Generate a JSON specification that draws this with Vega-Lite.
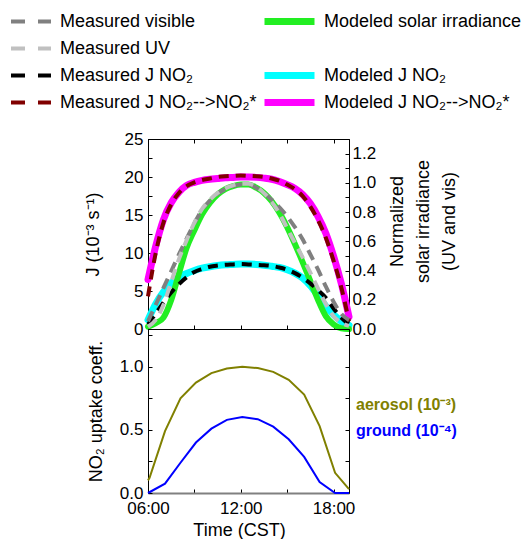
{
  "$schema": "https://vega.github.io/schema/vega-lite/v6.json",
  "padding": {"left": 8, "top": 7, "right": 0, "bottom": 0},
  "background": "white",
  "config": {
    "font": "Liberation Sans",
    "view": {"stroke": "black", "strokeWidth": 1},
    "axis": {
      "labelFont": "Liberation Sans", "labelFontSize": 17, "labelColor": "black",
      "titleFont": "Liberation Sans", "titleFontSize": 18, "titleFontWeight": "normal", "titleColor": "black",
      "domainColor": "black", "tickColor": "black", "grid": false, "tickSize": -4,
      "labelFlush": false, "labelOverlap": false
    },
    "legend": {"labelFont": "Liberation Sans", "labelFontSize": 18, "labelColor": "black", "padding": 0}
  },
  "datasets": {
    "jmod": [
      {"h":6,"v":1.2,"s":"Modeled J NO₂"},{"h":6.5,"v":3.3,"s":"Modeled J NO₂"},{"h":7,"v":4.9,"s":"Modeled J NO₂"},{"h":7.5,"v":6.0,"s":"Modeled J NO₂"},{"h":8,"v":6.8,"s":"Modeled J NO₂"},{"h":8.5,"v":7.3,"s":"Modeled J NO₂"},{"h":9,"v":7.7,"s":"Modeled J NO₂"},{"h":9.5,"v":8.0,"s":"Modeled J NO₂"},{"h":10,"v":8.2,"s":"Modeled J NO₂"},{"h":10.5,"v":8.35,"s":"Modeled J NO₂"},{"h":11,"v":8.45,"s":"Modeled J NO₂"},{"h":11.5,"v":8.5,"s":"Modeled J NO₂"},{"h":12,"v":8.55,"s":"Modeled J NO₂"},{"h":12.5,"v":8.55,"s":"Modeled J NO₂"},{"h":13,"v":8.5,"s":"Modeled J NO₂"},{"h":13.5,"v":8.4,"s":"Modeled J NO₂"},{"h":14,"v":8.25,"s":"Modeled J NO₂"},{"h":14.5,"v":8.1,"s":"Modeled J NO₂"},{"h":15,"v":7.8,"s":"Modeled J NO₂"},{"h":15.5,"v":7.35,"s":"Modeled J NO₂"},{"h":16,"v":6.7,"s":"Modeled J NO₂"},{"h":16.5,"v":5.7,"s":"Modeled J NO₂"},{"h":17,"v":4.4,"s":"Modeled J NO₂"},{"h":17.5,"v":3.0,"s":"Modeled J NO₂"},{"h":18,"v":1.9,"s":"Modeled J NO₂"},{"h":18.5,"v":1.0,"s":"Modeled J NO₂"},{"h":19,"v":0.5,"s":"Modeled J NO₂"},
      {"h":6,"v":6.5,"s":"Modeled J NO₂-->NO₂*"},{"h":6.5,"v":10.9,"s":"Modeled J NO₂-->NO₂*"},{"h":7,"v":14.4,"s":"Modeled J NO₂-->NO₂*"},{"h":7.5,"v":16.6,"s":"Modeled J NO₂-->NO₂*"},{"h":8,"v":18.0,"s":"Modeled J NO₂-->NO₂*"},{"h":8.5,"v":18.9,"s":"Modeled J NO₂-->NO₂*"},{"h":9,"v":19.3,"s":"Modeled J NO₂-->NO₂*"},{"h":9.5,"v":19.55,"s":"Modeled J NO₂-->NO₂*"},{"h":10,"v":19.7,"s":"Modeled J NO₂-->NO₂*"},{"h":10.5,"v":19.8,"s":"Modeled J NO₂-->NO₂*"},{"h":11,"v":19.9,"s":"Modeled J NO₂-->NO₂*"},{"h":11.5,"v":19.95,"s":"Modeled J NO₂-->NO₂*"},{"h":12,"v":20.0,"s":"Modeled J NO₂-->NO₂*"},{"h":12.5,"v":20.0,"s":"Modeled J NO₂-->NO₂*"},{"h":13,"v":19.95,"s":"Modeled J NO₂-->NO₂*"},{"h":13.5,"v":19.85,"s":"Modeled J NO₂-->NO₂*"},{"h":14,"v":19.7,"s":"Modeled J NO₂-->NO₂*"},{"h":14.5,"v":19.4,"s":"Modeled J NO₂-->NO₂*"},{"h":15,"v":19.0,"s":"Modeled J NO₂-->NO₂*"},{"h":15.5,"v":18.5,"s":"Modeled J NO₂-->NO₂*"},{"h":16,"v":17.7,"s":"Modeled J NO₂-->NO₂*"},{"h":16.5,"v":16.5,"s":"Modeled J NO₂-->NO₂*"},{"h":17,"v":14.8,"s":"Modeled J NO₂-->NO₂*"},{"h":17.5,"v":12.6,"s":"Modeled J NO₂-->NO₂*"},{"h":18,"v":9.6,"s":"Modeled J NO₂-->NO₂*"},{"h":18.5,"v":6.0,"s":"Modeled J NO₂-->NO₂*"},{"h":19,"v":1.6,"s":"Modeled J NO₂-->NO₂*"}
    ],
    "irrmod": [
      {"h":6,"v":0.016,"s":"Modeled solar irradiance"},{"h":6.5,"v":0.04,"s":"Modeled solar irradiance"},{"h":7,"v":0.078,"s":"Modeled solar irradiance"},{"h":7.5,"v":0.198,"s":"Modeled solar irradiance"},{"h":8,"v":0.38,"s":"Modeled solar irradiance"},{"h":8.5,"v":0.556,"s":"Modeled solar irradiance"},{"h":9,"v":0.676,"s":"Modeled solar irradiance"},{"h":9.5,"v":0.785,"s":"Modeled solar irradiance"},{"h":10,"v":0.863,"s":"Modeled solar irradiance"},{"h":10.5,"v":0.92,"s":"Modeled solar irradiance"},{"h":11,"v":0.957,"s":"Modeled solar irradiance"},{"h":11.5,"v":0.978,"s":"Modeled solar irradiance"},{"h":12,"v":0.988,"s":"Modeled solar irradiance"},{"h":12.5,"v":0.988,"s":"Modeled solar irradiance"},{"h":13,"v":0.967,"s":"Modeled solar irradiance"},{"h":13.5,"v":0.931,"s":"Modeled solar irradiance"},{"h":14,"v":0.874,"s":"Modeled solar irradiance"},{"h":14.5,"v":0.796,"s":"Modeled solar irradiance"},{"h":15,"v":0.697,"s":"Modeled solar irradiance"},{"h":15.5,"v":0.582,"s":"Modeled solar irradiance"},{"h":16,"v":0.458,"s":"Modeled solar irradiance"},{"h":16.5,"v":0.328,"s":"Modeled solar irradiance"},{"h":17,"v":0.198,"s":"Modeled solar irradiance"},{"h":17.5,"v":0.088,"s":"Modeled solar irradiance"},{"h":18,"v":0.031,"s":"Modeled solar irradiance"},{"h":18.5,"v":0.005,"s":"Modeled solar irradiance"},{"h":19,"v":0,"s":"Modeled solar irradiance"}
    ],
    "jmeas": [
      {"h":6,"v":0.6,"s":"Measured J NO₂"},{"h":6.5,"v":2.0,"s":"Measured J NO₂"},{"h":7,"v":3.5,"s":"Measured J NO₂"},{"h":7.5,"v":4.8,"s":"Measured J NO₂"},{"h":8,"v":5.9,"s":"Measured J NO₂"},{"h":8.5,"v":6.8,"s":"Measured J NO₂"},{"h":9,"v":7.5,"s":"Measured J NO₂"},{"h":9.5,"v":7.9,"s":"Measured J NO₂"},{"h":10,"v":8.2,"s":"Measured J NO₂"},{"h":10.5,"v":8.35,"s":"Measured J NO₂"},{"h":11,"v":8.45,"s":"Measured J NO₂"},{"h":11.5,"v":8.5,"s":"Measured J NO₂"},{"h":12,"v":8.55,"s":"Measured J NO₂"},{"h":12.5,"v":8.5,"s":"Measured J NO₂"},{"h":13,"v":8.45,"s":"Measured J NO₂"},{"h":13.5,"v":8.4,"s":"Measured J NO₂"},{"h":14,"v":8.3,"s":"Measured J NO₂"},{"h":14.5,"v":8.1,"s":"Measured J NO₂"},{"h":15,"v":7.8,"s":"Measured J NO₂"},{"h":15.5,"v":7.35,"s":"Measured J NO₂"},{"h":16,"v":6.75,"s":"Measured J NO₂"},{"h":16.5,"v":6.0,"s":"Measured J NO₂"},{"h":17,"v":5.1,"s":"Measured J NO₂"},{"h":17.5,"v":4.1,"s":"Measured J NO₂"},{"h":18,"v":2.7,"s":"Measured J NO₂"},{"h":18.5,"v":1.5,"s":"Measured J NO₂"},{"h":19,"v":0.6,"s":"Measured J NO₂"},
      {"h":6,"v":4.3,"s":"Measured J NO₂-->NO₂*"},{"h":6.5,"v":10.0,"s":"Measured J NO₂-->NO₂*"},{"h":7,"v":14.0,"s":"Measured J NO₂-->NO₂*"},{"h":7.5,"v":16.4,"s":"Measured J NO₂-->NO₂*"},{"h":8,"v":17.9,"s":"Measured J NO₂-->NO₂*"},{"h":8.5,"v":18.8,"s":"Measured J NO₂-->NO₂*"},{"h":9,"v":19.3,"s":"Measured J NO₂-->NO₂*"},{"h":9.5,"v":19.6,"s":"Measured J NO₂-->NO₂*"},{"h":10,"v":19.8,"s":"Measured J NO₂-->NO₂*"},{"h":10.5,"v":20.0,"s":"Measured J NO₂-->NO₂*"},{"h":11,"v":20.1,"s":"Measured J NO₂-->NO₂*"},{"h":11.5,"v":20.15,"s":"Measured J NO₂-->NO₂*"},{"h":12,"v":20.2,"s":"Measured J NO₂-->NO₂*"},{"h":12.5,"v":20.15,"s":"Measured J NO₂-->NO₂*"},{"h":13,"v":20.1,"s":"Measured J NO₂-->NO₂*"},{"h":13.5,"v":20.0,"s":"Measured J NO₂-->NO₂*"},{"h":14,"v":19.8,"s":"Measured J NO₂-->NO₂*"},{"h":14.5,"v":19.5,"s":"Measured J NO₂-->NO₂*"},{"h":15,"v":19.0,"s":"Measured J NO₂-->NO₂*"},{"h":15.5,"v":18.4,"s":"Measured J NO₂-->NO₂*"},{"h":16,"v":17.5,"s":"Measured J NO₂-->NO₂*"},{"h":16.5,"v":16.1,"s":"Measured J NO₂-->NO₂*"},{"h":17,"v":14.3,"s":"Measured J NO₂-->NO₂*"},{"h":17.5,"v":12.0,"s":"Measured J NO₂-->NO₂*"},{"h":18,"v":9.0,"s":"Measured J NO₂-->NO₂*"},{"h":18.5,"v":5.5,"s":"Measured J NO₂-->NO₂*"},{"h":19,"v":1.0,"s":"Measured J NO₂-->NO₂*"}
    ],
    "irrmeas": [
      {"h":6,"v":0.052,"s":"Measured visible"},{"h":6.5,"v":0.166,"s":"Measured visible"},{"h":7,"v":0.281,"s":"Measured visible"},{"h":7.5,"v":0.395,"s":"Measured visible"},{"h":8,"v":0.51,"s":"Measured visible"},{"h":8.5,"v":0.619,"s":"Measured visible"},{"h":9,"v":0.723,"s":"Measured visible"},{"h":9.5,"v":0.816,"s":"Measured visible"},{"h":10,"v":0.879,"s":"Measured visible"},{"h":10.5,"v":0.926,"s":"Measured visible"},{"h":11,"v":0.957,"s":"Measured visible"},{"h":11.5,"v":0.978,"s":"Measured visible"},{"h":12,"v":0.988,"s":"Measured visible"},{"h":12.5,"v":0.988,"s":"Measured visible"},{"h":13,"v":0.967,"s":"Measured visible"},{"h":13.5,"v":0.931,"s":"Measured visible"},{"h":14,"v":0.884,"s":"Measured visible"},{"h":14.5,"v":0.832,"s":"Measured visible"},{"h":15,"v":0.77,"s":"Measured visible"},{"h":15.5,"v":0.697,"s":"Measured visible"},{"h":16,"v":0.614,"s":"Measured visible"},{"h":16.5,"v":0.51,"s":"Measured visible"},{"h":17,"v":0.406,"s":"Measured visible"},{"h":17.5,"v":0.291,"s":"Measured visible"},{"h":18,"v":0.187,"s":"Measured visible"},{"h":18.5,"v":0.104,"s":"Measured visible"},{"h":19,"v":0.062,"s":"Measured visible"},
      {"h":6,"v":0.016,"s":"Measured UV"},{"h":6.5,"v":0.062,"s":"Measured UV"},{"h":7,"v":0.166,"s":"Measured UV"},{"h":7.5,"v":0.322,"s":"Measured UV"},{"h":8,"v":0.478,"s":"Measured UV"},{"h":8.5,"v":0.608,"s":"Measured UV"},{"h":9,"v":0.728,"s":"Measured UV"},{"h":9.5,"v":0.822,"s":"Measured UV"},{"h":10,"v":0.884,"s":"Measured UV"},{"h":10.5,"v":0.931,"s":"Measured UV"},{"h":11,"v":0.962,"s":"Measured UV"},{"h":11.5,"v":0.983,"s":"Measured UV"},{"h":12,"v":0.993,"s":"Measured UV"},{"h":12.5,"v":0.993,"s":"Measured UV"},{"h":13,"v":0.972,"s":"Measured UV"},{"h":13.5,"v":0.93,"s":"Measured UV"},{"h":14,"v":0.87,"s":"Measured UV"},{"h":14.5,"v":0.79,"s":"Measured UV"},{"h":15,"v":0.69,"s":"Measured UV"},{"h":15.5,"v":0.59,"s":"Measured UV"},{"h":16,"v":0.49,"s":"Measured UV"},{"h":16.5,"v":0.385,"s":"Measured UV"},{"h":17,"v":0.276,"s":"Measured UV"},{"h":17.5,"v":0.172,"s":"Measured UV"},{"h":18,"v":0.088,"s":"Measured UV"},{"h":18.5,"v":0.042,"s":"Measured UV"},{"h":19,"v":0.021,"s":"Measured UV"}
    ],
    "uptake": [
      {"h":6.0,"v":0.10,"s":"aerosol"},{"h":6.1,"v":0.12,"s":"aerosol"},{"h":7.1,"v":0.49,"s":"aerosol"},{"h":8.1,"v":0.75,"s":"aerosol"},{"h":9.1,"v":0.875,"s":"aerosol"},{"h":10.1,"v":0.95,"s":"aerosol"},{"h":11.1,"v":0.987,"s":"aerosol"},{"h":12.1,"v":1.0,"s":"aerosol"},{"h":13.1,"v":0.99,"s":"aerosol"},{"h":14.1,"v":0.96,"s":"aerosol"},{"h":15.1,"v":0.897,"s":"aerosol"},{"h":16.1,"v":0.78,"s":"aerosol"},{"h":17.1,"v":0.53,"s":"aerosol"},{"h":18.1,"v":0.16,"s":"aerosol"},{"h":19.0,"v":0.03,"s":"aerosol"},
      {"h":6.0,"v":0.0,"s":"ground"},{"h":7.1,"v":0.074,"s":"ground"},{"h":8.1,"v":0.24,"s":"ground"},{"h":9.1,"v":0.40,"s":"ground"},{"h":10.1,"v":0.51,"s":"ground"},{"h":11.1,"v":0.58,"s":"ground"},{"h":12.1,"v":0.603,"s":"ground"},{"h":13.1,"v":0.585,"s":"ground"},{"h":14.1,"v":0.526,"s":"ground"},{"h":15.1,"v":0.426,"s":"ground"},{"h":16.1,"v":0.286,"s":"ground"},{"h":17.1,"v":0.087,"s":"ground"},{"h":18.1,"v":0.0,"s":"ground"},{"h":19.0,"v":0.0,"s":"ground"}
    ],
    "notes": [
      {"h":19,"v":0.70,"s":"aerosol","label":"aerosol (10⁻³)"},
      {"h":19,"v":0.49,"s":"ground","label":"ground (10⁻⁴)"}
    ]
  },
  "spacing": 0,
  "bounds": "flush",
  "resolve": {"scale": {"color": "independent", "stroke": "independent"}, "legend": {"color": "independent", "stroke": "independent"}},
  "vconcat": [
    {
      "width": 201,
      "height": 190,
      "layer": [
        {
          "data": {"name": "jmod"},
          "mark": {"type": "line", "strokeWidth": 7, "interpolate": "monotone", "strokeCap": "round"},
          "encoding": {
            "x": {"field": "h", "type": "quantitative", "scale": {"domain": [6, 19], "nice": false, "zero": false},
                  "axis": {"orient": "bottom", "values": [6, 9, 12, 15, 18], "labels": false, "title": null}},
            "y": {"field": "v", "type": "quantitative", "scale": {"domain": [0, 25], "nice": false},
                  "axis": {"orient": "left", "values": [0, 2.5, 5, 7.5, 10, 12.5, 15, 17.5, 20, 22.5, 25], "format": "d",
                           "labelExpr": "datum.value % 5 == 0 ? datum.label : ''", "labelPadding": 9,
                           "title": "J (10⁻³ s⁻¹)", "titlePadding": 22}},
            "stroke": {"field": "s", "type": "nominal",
                       "scale": {"domain": ["Modeled solar irradiance", " ", "Modeled J NO₂", "Modeled J NO₂-->NO₂*"], "range": ["#22ee22", "rgba(0,0,0,0)", "#00ffff", "#ff00ff"]},
                       "legend": {"orient": "none", "legendX": 113, "legendY": -131, "title": null, "symbolType": "stroke", "symbolSize": 2500, "symbolStrokeWidth": 7, "clipHeight": 27, "rowPadding": 0, "labelOffset": 6, "labelLimit": 300}}
          }
        },
        {
          "data": {"name": "irrmod"},
          "mark": {"type": "line", "strokeWidth": 6, "interpolate": "monotone", "strokeCap": "round"},
          "encoding": {
            "x": {"field": "h", "type": "quantitative", "scale": {"domain": [6, 19], "nice": false, "zero": false},
                  "axis": {"orient": "top", "values": [6, 9, 12, 15, 18], "labels": false, "title": null}},
            "y": {"field": "v", "type": "quantitative", "scale": {"domain": [0, 1.3], "nice": false},
                  "axis": {"orient": "right", "values": [0, 0.1, 0.2, 0.3, 0.4, 0.5, 0.6, 0.7, 0.8, 0.9, 1.0, 1.1, 1.2], "format": ".1f",
                           "labelExpr": "round(datum.value * 10) % 2 == 0 ? datum.label : ''", "labelPadding": 7,
                           "title": ["Normalized", "solar irradiance", "(UV and vis)"], "titleAngle": 270, "titleBaseline": "top",
                           "titleLineHeight": 26, "titlePadding": -39, "titleY": 82, "titleAlign": "center"}},
            "stroke": {"field": "s", "type": "nominal",
                       "scale": {"domain": ["Modeled solar irradiance", " ", "Modeled J NO₂", "Modeled J NO₂-->NO₂*"], "range": ["#22ee22", "rgba(0,0,0,0)", "#00ffff", "#ff00ff"]},
                       "legend": {"orient": "none", "legendX": 113, "legendY": -131, "title": null, "symbolType": "stroke", "symbolSize": 2500, "symbolStrokeWidth": 7, "clipHeight": 27, "rowPadding": 0, "labelOffset": 6, "labelLimit": 300}}
          }
        },
        {
          "data": {"name": "jmeas"},
          "mark": {"type": "line", "strokeWidth": 4, "interpolate": "monotone", "strokeDash": [10, 7]},
          "encoding": {
            "x": {"field": "h", "type": "quantitative", "scale": {"domain": [6, 19], "nice": false, "zero": false}, "axis": null},
            "y": {"field": "v", "type": "quantitative", "scale": {"domain": [0, 25], "nice": false}, "axis": null},
            "color": {"field": "s", "type": "nominal",
                      "scale": {"domain": ["Measured visible", "Measured UV", "Measured J NO₂", "Measured J NO₂-->NO₂*"], "range": ["#808080", "#c0c0c0", "#000000", "#800000"]},
                      "legend": {"orient": "none", "legendX": -139, "legendY": -131, "title": null, "symbolType": "stroke", "symbolSize": 1600, "symbolStrokeWidth": 4, "symbolDash": [14, 13], "clipHeight": 27, "rowPadding": 0, "labelOffset": 7, "labelLimit": 300}}
          }
        },
        {
          "data": {"name": "irrmeas"},
          "mark": {"type": "line", "strokeWidth": 4, "interpolate": "monotone", "strokeDash": [11, 7]},
          "encoding": {
            "x": {"field": "h", "type": "quantitative", "scale": {"domain": [6, 19], "nice": false, "zero": false}, "axis": null},
            "y": {"field": "v", "type": "quantitative", "scale": {"domain": [0, 1.3], "nice": false}, "axis": null},
            "color": {"field": "s", "type": "nominal",
                      "scale": {"domain": ["Measured visible", "Measured UV", "Measured J NO₂", "Measured J NO₂-->NO₂*"], "range": ["#808080", "#c0c0c0", "#000000", "#800000"]},
                      "legend": {"orient": "none", "legendX": -139, "legendY": -131, "title": null, "symbolType": "stroke", "symbolSize": 1600, "symbolStrokeWidth": 4, "symbolDash": [14, 13], "clipHeight": 27, "rowPadding": 0, "labelOffset": 7, "labelLimit": 300}}
          }
        }
      ],
      "resolve": {"scale": {"y": "independent"}, "axis": {"x": "independent"}}
    },
    {
      "width": 201,
      "height": 164,
      "layer": [
        {
          "data": {"name": "uptake"},
          "mark": {"type": "line", "strokeWidth": 2},
          "encoding": {
            "x": {"field": "h", "type": "quantitative", "scale": {"domain": [6, 19], "nice": false, "zero": false},
                  "axis": {"orient": "bottom", "values": [6, 9, 12, 15, 18],
                           "labelExpr": "datum.value == 6 ? '06:00' : datum.value == 12 ? '12:00' : datum.value == 18 ? '18:00' : ''",
                           "labelPadding": 11, "domainColor": "#808080", "domainWidth": 2,
                           "title": "Time (CST)", "titlePadding": 5, "titleX": 91}},
            "y": {"field": "v", "type": "quantitative", "scale": {"domain": [0, 1.3], "nice": false},
                  "axis": {"orient": "left", "values": [0, 0.25, 0.5, 0.75, 1.0, 1.25], "format": ".1f",
                           "labelExpr": "(datum.value * 2) % 1 == 0 ? datum.label : ''", "labelPadding": 9,
                           "title": "NO₂ uptake coeff.", "titlePadding": 14}},
            "color": {"field": "s", "type": "nominal", "scale": {"domain": ["aerosol", "ground"], "range": ["#808000", "#0000ff"]}, "legend": null}
          }
        },
        {
          "data": {"name": "notes"},
          "mark": {"type": "text", "align": "left", "baseline": "middle", "dx": 7, "fontSize": 16, "fontWeight": "bold", "font": "Liberation Sans"},
          "encoding": {
            "x": {"field": "h", "type": "quantitative", "scale": {"domain": [6, 19], "nice": false, "zero": false}},
            "y": {"field": "v", "type": "quantitative", "scale": {"domain": [0, 1.3], "nice": false},
                  "axis": {"orient": "right", "values": [0.25, 0.5, 0.75, 1.0, 1.25], "labels": false, "title": null}},
            "text": {"field": "label", "type": "nominal"},
            "color": {"field": "s", "type": "nominal", "scale": {"domain": ["aerosol", "ground"], "range": ["#808000", "#0000ff"]}, "legend": null}
          }
        }
      ],
      "resolve": {"axis": {"y": "independent"}}
    }
  ]
}
